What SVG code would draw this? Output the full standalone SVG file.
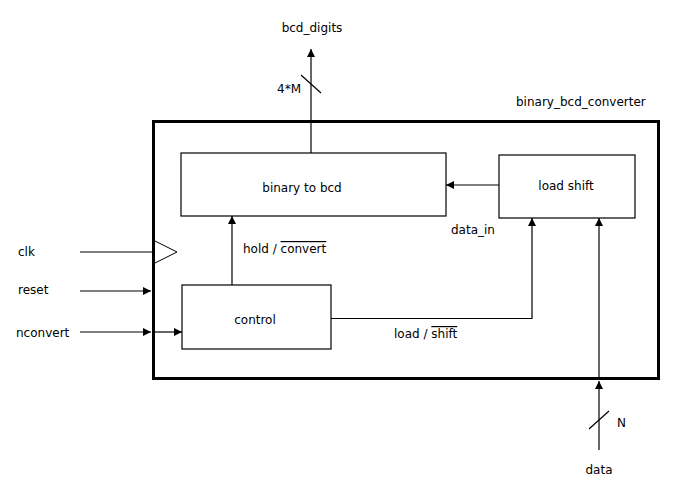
<svg xmlns="http://www.w3.org/2000/svg" width="687" height="489" viewBox="0 0 687 489">
<style>
text{font-family:"DejaVu Sans","Liberation Sans",sans-serif;font-size:12px;fill:#000}
.box{fill:#fff;stroke:#000;stroke-width:1.2}
.w{fill:none;stroke:#000;stroke-width:1.2}
.ol{text-decoration:overline}
</style>
<defs>
<marker id="ah" viewBox="0 0 10 10" refX="10" refY="5" markerWidth="8" markerHeight="8" markerUnits="userSpaceOnUse" orient="auto">
<path d="M0,0 L10,5 L0,10 Z" fill="#000"/>
</marker>
</defs>
<rect x="0" y="0" width="687" height="489" fill="#fff"/>
<g id="converter">
<rect x="153.5" y="121.5" width="505" height="257" fill="none" stroke="#000" stroke-width="3"/>
<text x="516" y="106">binary_bcd_converter</text>
<path d="M155,241 L177,252 L155,263" fill="none" stroke="#000" stroke-width="1"/>
</g>
<g id="binary_to_bcd">
<rect class="box" x="181" y="153" width="265" height="63"/>
<text x="302" y="192" text-anchor="middle">binary to bcd</text>
</g>
<g id="load_shift">
<rect class="box" x="499" y="155" width="136" height="63"/>
<text x="566" y="190" text-anchor="middle">load shift</text>
</g>
<g id="control">
<rect class="box" x="182" y="285" width="149" height="64"/>
<text x="255" y="324" text-anchor="middle">control</text>
</g>
<g id="connectors">
<line class="w" x1="311" y1="153" x2="311" y2="49" marker-end="url(#ah)"/>
<line class="w" x1="301" y1="75" x2="321" y2="93"/>
<line class="w" x1="80" y1="252" x2="153" y2="252"/>
<line class="w" x1="80" y1="291" x2="151" y2="291" marker-end="url(#ah)"/>
<line class="w" x1="80" y1="332" x2="151" y2="332" marker-end="url(#ah)"/>
<line class="w" x1="155" y1="332" x2="182" y2="332" marker-end="url(#ah)"/>
<line class="w" x1="232" y1="285" x2="232" y2="216" marker-end="url(#ah)"/>
<line class="w" x1="499" y1="185" x2="446" y2="185" marker-end="url(#ah)"/>
<polyline class="w" points="331,318.5 532,318.5 532,218" marker-end="url(#ah)"/>
<line class="w" x1="599" y1="450" x2="599" y2="381" marker-end="url(#ah)"/>
<line class="w" x1="599" y1="377" x2="599" y2="218" marker-end="url(#ah)"/>
<line class="w" x1="589" y1="429" x2="609" y2="411"/>
</g>
<g id="labels">
<text x="312" y="32" text-anchor="middle">bcd_digits</text>
<text x="301" y="93" text-anchor="end">4*M</text>
<text x="18" y="256">clk</text>
<text x="18" y="294">reset</text>
<text x="16" y="337">nconvert</text>
<text x="243" y="253">hold / <tspan class="ol">convert</tspan></text>
<text x="451" y="234">data_in</text>
<text x="394" y="338">load / <tspan class="ol">shift</tspan></text>
<text x="617" y="427">N</text>
<text x="599" y="474" text-anchor="middle">data</text>
</g>
</svg>
